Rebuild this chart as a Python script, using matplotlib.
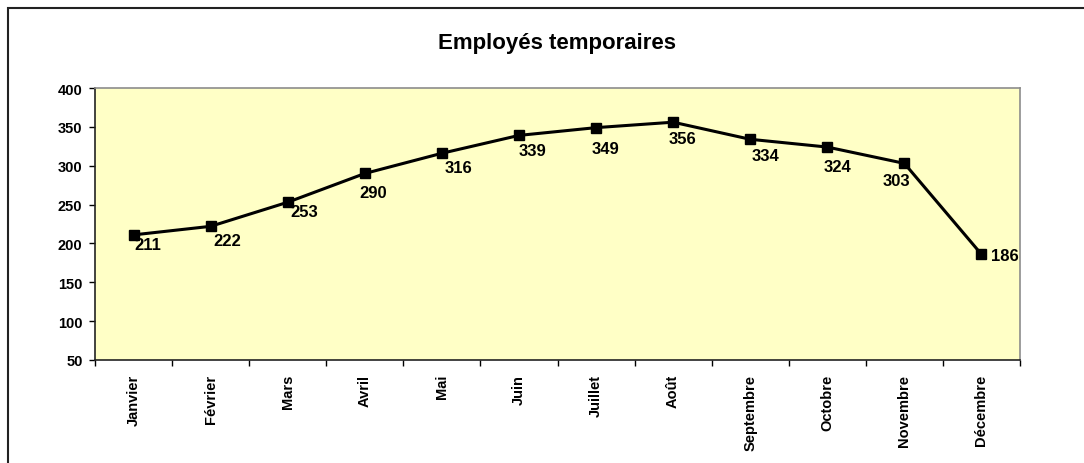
import matplotlib.pyplot as plt
from matplotlib.patches import Rectangle

plt.rcParams['font.family'] = ['Liberation Sans', 'DejaVu Sans']

months = ["Janvier", "Février", "Mars", "Avril", "Mai", "Juin", "Juillet",
          "Août", "Septembre", "Octobre", "Novembre", "Décembre"]
employes = [211, 222, 253, 290, 316, 339, 349, 356, 334, 324, 303, 186]
y_ticks = [50, 100, 150, 200, 250, 300, 350, 400]

# label offsets in points (dx, dy) relative to each marker
label_offsets = [(10, -7), (12, -10), (12, -7), (6, -14), (12, -10), (10, -11),
                 (7, -15), (7, -12), (11, -12), (7, -14), (-6, -12), (17, -1)]

W, H = 1084, 464
fig = plt.figure(figsize=(W / 100, H / 100), dpi=100)
fig.patch.set_facecolor("white")

# outer chart border (only top and left visible in the crop)
fig.add_artist(Rectangle((8 / W, -0.1), 1.2, (H - 9) / H + 0.1, transform=fig.transFigure,
                         fill=False, edgecolor="#222222", linewidth=1.5))

ax = fig.add_axes([95 / W, (H - 361) / H, (1020 - 95) / W, (361 - 89) / H])
ax.set_facecolor("#FFFFC6")

x = list(range(len(months)))
ax.plot(x, employes, color="black", linewidth=2.2, marker="s", markersize=6.5,
        markerfacecolor="black", markeredgecolor="black", clip_on=False)

for xi, v, (dx, dy) in zip(x, employes, label_offsets):
    ax.annotate(str(v), (xi, v), xytext=(dx, dy), textcoords="offset points",
                ha="center", va="center", fontsize=12, fontweight="bold")

ax.set_xlim(-0.5, len(months) - 0.5)
ax.set_ylim(50, 400)
ax.set_yticks(y_ticks)
ax.tick_params(axis="y", labelsize=10.5, length=4, width=1, pad=5, direction="out")
for lbl in ax.get_yticklabels():
    lbl.set_fontweight("bold")

ax.set_xticks(x)
ax.set_xticklabels(months, rotation=90, fontsize=10.5, fontweight="bold", va="top")
ax.set_xticks([i - 0.5 for i in range(len(months) + 1)], minor=True)
ax.tick_params(axis="x", which="major", length=0, pad=10)
ax.tick_params(axis="x", which="minor", length=4, width=1, direction="out")

for side in ["top", "right"]:
    ax.spines[side].set_color("#8c8c8c")
    ax.spines[side].set_linewidth(1.2)
for side in ["left", "bottom"]:
    ax.spines[side].set_color("#222222")
    ax.spines[side].set_linewidth(1.2)

ax.set_title("Employés temporaires", fontsize=16, fontweight="bold", pad=29)

fig.savefig("out.png", dpi=100)
